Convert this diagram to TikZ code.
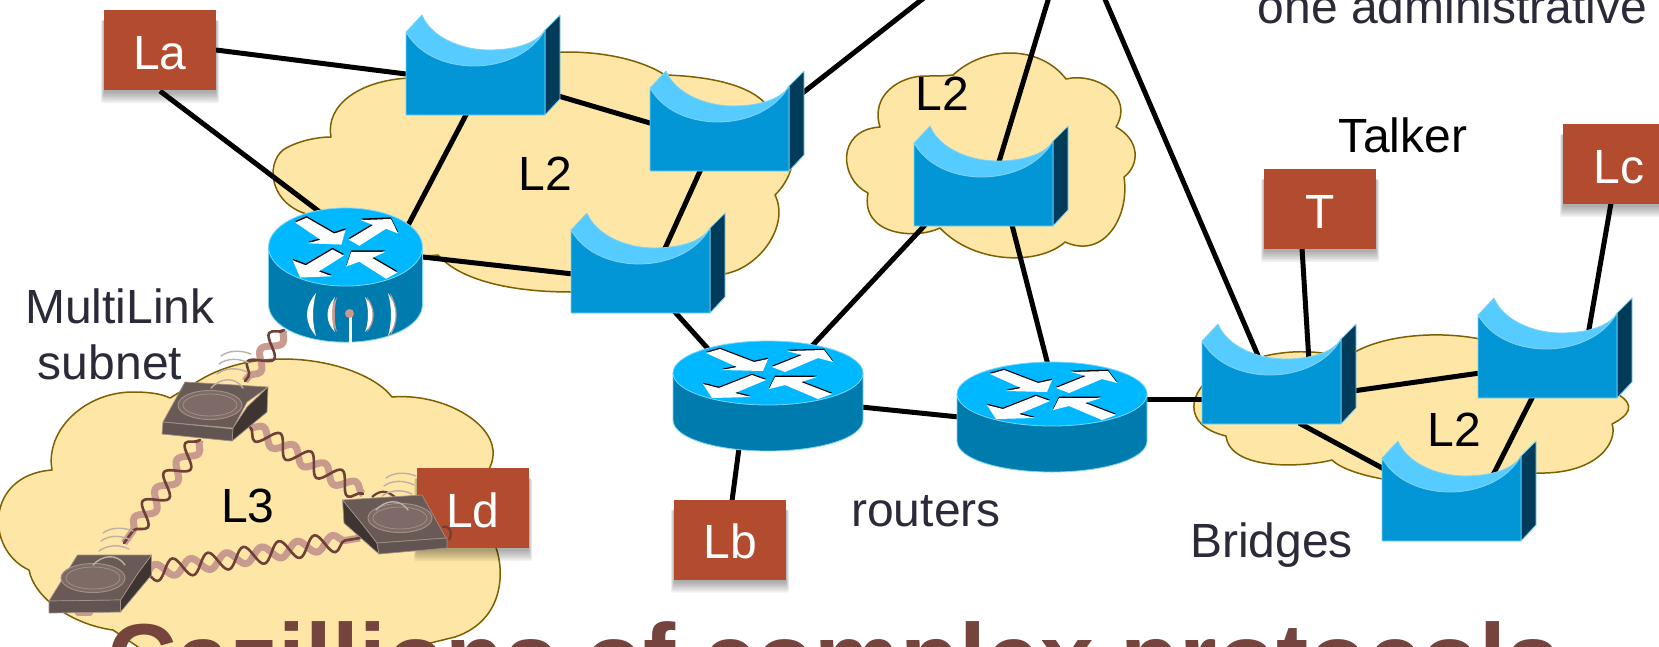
\documentclass[tikz,border=0pt]{standalone}
\usepackage{fontspec}
\setmainfont{Liberation Sans}
\usetikzlibrary{decorations.pathmorphing}
\definecolor{cloudfill}{HTML}{FDE6A6}
\definecolor{cloudline}{HTML}{7F6000}
\definecolor{boxred}{HTML}{B34C2F}
\definecolor{inktxt}{HTML}{2A2A38}
\definecolor{titlecol}{HTML}{75443C}
\definecolor{brfront}{HTML}{0296D6}
\definecolor{brband}{HTML}{55CBFF}
\definecolor{brside}{HTML}{003B59}
\definecolor{bredge}{HTML}{7FD4F4}
\definecolor{rttop}{HTML}{00B8FF}
\definecolor{rtbody}{HTML}{007BAE}
\definecolor{twistlight}{HTML}{C99A8E}
\definecolor{twistdark}{HTML}{6F4038}
\definecolor{devtop}{HTML}{6A5A56}
\definecolor{devdark}{HTML}{3E3432}
\definecolor{devfront}{HTML}{625451}
\definecolor{devedge}{HTML}{A08E88}
\definecolor{devdisc}{HTML}{7E6A66}
\definecolor{waveline}{HTML}{BDB0A8}
\tikzset{
  cloudshape/.style={draw=cloudline,fill=cloudfill,line width=1.5pt,line join=round},
  wire/.style={draw=black,line width=5pt},
  hit/.style={inner sep=0pt,outer sep=0pt,minimum size=1pt},
  redbox/.style={fill=boxred,text=white,inner sep=0pt,minimum width=112pt,minimum height=80pt,text height=38pt,text depth=0pt,font=\fontsize{48}{48}\selectfont},
  lab/.style={anchor=base,inner sep=0pt,font=\fontsize{48}{48}\selectfont},
  twistthick/.style={draw=twistlight,line width=7pt,line join=round,decorate,decoration={snake,segment length=36pt,amplitude=7pt}},
  twistthin/.style={draw=twistdark,line width=2.6pt,line cap=round,line join=round,decorate,decoration={snake,segment length=36pt,amplitude=10pt,mirror}},
  wavearc/.style={draw=waveline,line width=1.4pt,line cap=round},
}
\newcommand{\lnk}[6]{\draw[wire] ([shift={(#2,#3)}]#1.center) -- ([shift={(#5,#6)}]#4.center);}
\newcommand{\twist}[6]{%
  \draw[twistthick] ([shift={(#2,#3)}]#1.center) -- ([shift={(#5,#6)}]#4.center);
  \draw[twistthin] ([shift={(#2,#3)}]#1.center) -- ([shift={(#5,#6)}]#4.center);}
% bridge: origin = bottom-left of the front face
\newcommand{\bridgeshape}[2]{%
  \begin{scope}[shift={(#1,#2)},draw=bredge,line width=.8pt,line join=round]
    \filldraw[fill=brside] (139,-85) -- (154,-100) -- (154,-16) -- (139,0) -- cycle;
    \filldraw[fill=brband] (0,-83) -- (16,-100) .. controls (25,-78) and (55,-65) .. (83,-65)
       .. controls (105,-65) and (130,-70) .. (139,-85)
       .. controls (125,-60) and (95,-49) .. (68,-49) .. controls (45,-49) and (15,-57) .. (0,-83) -- cycle;
    \filldraw[fill=brfront] (0,-83) .. controls (15,-57) and (45,-49) .. (68,-49)
       .. controls (95,-49) and (125,-60) .. (139,-85) -- (139,0) -- (0,0) -- cycle;
  \end{scope}}
% router: canonical half-axes 95 x 32
\newcommand{\routershape}[4]{%
  \begin{scope}[shift={(#1,#2)},xscale=#3,yscale=#4]
    \filldraw[fill=rtbody,draw=bredge,line width=.8pt] (-95,0) -- (-95,47)
       .. controls (-95,65) and (-52,78) .. (0,78) .. controls (52,78) and (95,65) .. (95,47) -- (95,0) -- cycle;
    \filldraw[fill=rttop,draw=bredge,line width=.8pt] (0,0) ellipse [x radius=95,y radius=32];
    \foreach \c/\sh in {black/1.3,white/0}{
      \begin{scope}[yshift=\sh]
      \fill[\c] (-62,-20) -- (-48,-24) -- (-14,-11) -- (0,-14) -- (-5,-2) -- (-46,-3) -- (-31,-6) -- cycle;
      \fill[\c] (4,-6) -- (34,-18) -- (19,-22) -- (56,-23) -- (65,-11) -- (50,-15) -- (17,-1) -- cycle;
      \fill[\c] (-2,7) -- (-16,2) -- (-49,15) -- (-65,11) -- (-56,25) -- (-17,24) -- (-33,20) -- cycle;
      \fill[\c] (1,16) -- (7,4) -- (49,4) -- (33,9) -- (64,21) -- (50,26) -- (17,12) -- cycle;
      \end{scope}}
  \end{scope}}
\newcommand{\boxshadow}[1]{%
  \foreach \e in {6,5,4,3,2,1,0}{
    \fill[black,opacity=.05,rounded corners=2pt]
      ([shift={(-56-.5*\e,-30)}]#1.center) rectangle ([shift={(56+.5*\e,43+1.7*\e)}]#1.center);}}
\newcommand{\waveset}[2]{%
  \begin{scope}[shift={(#1,#2)}]
    \draw[wavearc] (-14,8) .. controls (-5,-2) and (10,-4) .. (18,8);
    \draw[wavearc] (-8,-6) .. controls (0,-12) and (12,-13) .. (22,-8);
    \draw[wavearc] (-6,-16) .. controls (2,-22) and (14,-22) .. (24,-17);
    \draw[wavearc] (-4,-24) .. controls (4,-30) and (16,-30) .. (26,-26);
  \end{scope}}
\newcommand{\discshape}[2]{%
  \filldraw[fill=devdisc,draw=devedge,line width=1pt] (#1,#2) ellipse [x radius=32,y radius=14.5];
  \draw[devedge,line width=.8pt] (#1,#2) ellipse [x radius=27,y radius=11];}
\begin{document}
\begin{tikzpicture}[x=1pt,y=-1pt]
\useasboundingbox (0,0) rectangle (1659,646);
\clip (0,0) rectangle (1659,646);
\fill[white] (0,0) rectangle (1659,646);

% clouds
\draw[cloudshape] (331,137) .. controls (325,105) and (360,80) .. (410,78) -- (480,72) -- (540,60) -- (552,52) -- (567,52)
  .. controls (610,52) and (645,62) .. (665,75) .. controls (700,76) and (745,82) .. (765,103)
  .. controls (795,125) and (805,165) .. (775,195) .. controls (790,225) and (760,268) .. (724,274)
  .. controls (680,290) and (620,293) .. (571,292) .. controls (510,292) and (460,280) .. (438,255)
  .. controls (400,260) and (340,235) .. (310,215) .. controls (270,205) and (265,165) .. (283,150)
  .. controls (295,142) and (315,137) .. (331,137) -- cycle;
\draw[cloudshape] (880,127) .. controls (870,95) and (900,76) .. (925,76) .. controls (935,76) and (945,76) .. (953,75)
  .. controls (985,45) and (1040,45) .. (1066,79) .. controls (1095,72) and (1135,95) .. (1116,127)
  .. controls (1140,140) and (1140,165) .. (1124,177) .. controls (1130,215) and (1105,260) .. (1065,242)
  .. controls (1040,265) and (975,265) .. (940,228) .. controls (915,240) and (860,235) .. (868,193)
  .. controls (840,180) and (835,130) .. (880,127) -- cycle;
\draw[cloudshape] (1226,436) .. controls (1180,425) and (1190,390) .. (1215,375) -- (1265,356)
  .. controls (1290,350) and (1320,350) .. (1345,358) -- (1355,352) .. controls (1385,335) and (1440,330) .. (1485,340)
  -- (1600,380) -- (1619,395) .. controls (1635,405) and (1630,415) .. (1612,424)
  .. controls (1618,440) and (1600,475) .. (1535,473) -- (1450,495) -- (1383,479)
  .. controls (1360,475) and (1340,468) .. (1332,460) .. controls (1300,468) and (1230,470) .. (1226,436) -- cycle;
\draw[cloudshape] (52,470) .. controls (45,430) and (85,392) .. (133,392) .. controls (150,392) and (162,394) .. (170,398)
  -- (200,380) .. controls (225,365) and (255,359) .. (283,359) .. controls (330,359) and (375,375) .. (392,397)
  .. controls (440,393) and (490,420) .. (493,450) .. controls (494,460) and (490,468) .. (487,472)
  -- (495,545) .. controls (505,570) and (505,620) .. (455,637) -- (381,655) -- (150,655)
  -- (113,630) .. controls (75,625) and (35,600) .. (29,570) .. controls (-15,550) and (-15,475) .. (52,470) -- cycle;

% named anchors
\node[hit] (b1) at (475.5,73) {};
\node[hit] (b2) at (719.5,129) {};
\node[hit] (b3) at (640.5,271) {};
\node[hit] (b4) at (983.5,184) {};
\node[hit] (b5) at (1271.5,382) {};
\node[hit] (b6) at (1547.5,356) {};
\node[hit] (b7) at (1451.5,499) {};
\node[hit] (r1) at (345.5,247) {};
\node[hit] (r2) at (768,373) {};
\node[hit] (r3) at (1052,394) {};
\node[hit] (d1) at (215,410) {};
\node[hit] (d2) at (100,585) {};
\node[hit] (d3) at (395,522) {};
\coordinate (top1) at (925,-3);
\coordinate (top2) at (1049,-3);
\coordinate (top3) at (1104,-3);
\node[hit] (la0) at (160,50) {};
\node[hit] (t0) at (1320,209) {};
\node[hit] (lc0) at (1619,164) {};
\node[hit] (lb0) at (730,539.5) {};
\node[hit] (ld0) at (473,508) {};

% wires
\lnk{la0}{56}{0}{b1}{-69.5}{1}
\lnk{la0}{0}{41}{r1}{-20.5}{-31}
\lnk{b1}{-8.5}{40}{r1}{58.5}{-14}
\lnk{b1}{79.5}{22}{b2}{-64.5}{-4.5}
\lnk{b2}{-18.5}{40}{b3}{21.5}{-16}
\lnk{r1}{72.5}{9.5}{b3}{-67.5}{3}
\lnk{b3}{33.5}{40}{r2}{-58}{-22}
\lnk{b2}{80.5}{-34}{top1}{0}{0}
\lnk{b4}{14.5}{-19}{top2}{0}{0}
\lnk{b5}{-9.5}{-17}{top3}{0}{0}
\lnk{b4}{-58.5}{41}{r2}{43}{-26}
\lnk{b4}{28.5}{41}{r3}{-4}{-29}
\lnk{r2}{93}{34}{r3}{-93}{23}
\lnk{r2}{-29}{75}{lb0}{2}{-38.5}
\lnk{r3}{93}{5}{b5}{-67.5}{17}
\lnk{t0}{-18}{39}{b5}{37.5}{-20}
\lnk{lc0}{-8}{39}{b6}{40.5}{-21}
\lnk{b5}{81.5}{9}{b6}{-67.5}{17}
\lnk{b5}{27.5}{41}{b7}{-67.5}{-30}
\lnk{b6}{-14.5}{40}{b7}{41.5}{-24}

% routers
\routershape{345.5}{247}{.81}{1.22}
\routershape{768}{373}{1}{1}
\routershape{1052}{394}{1}{1}

% wifi symbol of the first router
\fill[twistlight] (337,297) .. controls (329,308) and (329,322) .. (337,332) .. controls (334,322) and (334,308) .. (337,297) -- cycle;
\fill[twistlight] (367,297) .. controls (376,308) and (376,322) .. (367,332) .. controls (370,322) and (370,308) .. (367,297) -- cycle;
\fill[twistlight] (390,293) .. controls (399,308) and (399,322) .. (390,336) .. controls (394,322) and (394,308) .. (390,293) -- cycle;
\fill[white] (316,293) .. controls (304,308) and (304,322) .. (316,336) .. controls (312,322) and (312,308) .. (316,293) -- cycle;
\fill[white] (335,297) .. controls (325,308) and (325,322) .. (335,332) .. controls (331,322) and (331,308) .. (335,297) -- cycle;
\fill[white] (365,297) .. controls (375,308) and (375,322) .. (365,332) .. controls (369,322) and (369,308) .. (365,297) -- cycle;
\fill[white] (388,293) .. controls (398,308) and (398,322) .. (388,336) .. controls (392,322) and (392,308) .. (388,293) -- cycle;
\draw[white,line width=3pt] (350,314) -- (350,344);
\fill[twistlight] (349.5,313.5) circle [radius=4.5];

% bridges
\bridgeshape{406}{115}
\bridgeshape{650}{171}
\bridgeshape{571}{313}
\bridgeshape{914}{226}
\bridgeshape{1202}{424}
\bridgeshape{1478}{398}
\bridgeshape{1382}{541}

% listener and talker boxes
\boxshadow{la0}\boxshadow{t0}\boxshadow{lc0}\boxshadow{lb0}\boxshadow{ld0}
\node[redbox] (la) at (la0) {La};
\node[redbox] (t) at (t0) {T};
\node[redbox] (lc) at (lc0) {Lc};
\node[redbox] (lb) at (lb0) {Lb};
\node[redbox] (ld) at (ld0) {Ld};

% twisted-pair links
\draw[draw=twistlight,line width=6pt,line cap=round] (78,613) -- (90,613);
\twist{r1}{-61.5}{83}{d1}{30}{-29}
\twist{d1}{-15}{30}{d2}{24}{-42}
\twist{d1}{35}{17}{d3}{-32}{-28}
\twist{d2}{45}{-12}{d3}{-35}{16}
\draw[draw=twistdark,line width=2.2pt] (442,527) .. controls (450,525) and (453,532) .. (449,540);
\draw[draw=twistdark,line width=2.2pt] (372,497) .. controls (380,490) and (386,490) .. (395,497);

% wireless devices
\begin{scope}[draw=devedge,line width=.7pt,line join=round]
  \filldraw[fill=devdark] (268,387) -- (267,412) -- (232,441) -- (233,428) -- (247,407) -- cycle;
  \filldraw[fill=devtop] (163,422) -- (185,382) -- (268,387) -- (247,402) -- (233,428) -- cycle;
  \filldraw[fill=devfront] (163,422) -- (233,429) -- (232,441) -- (162,434) -- cycle;
  \filldraw[fill=devdark] (151.5,555) -- (151.5,575) -- (120.5,612) -- (120.5,600) -- (138,573) -- cycle;
  \filldraw[fill=devtop] (49,601) -- (77.5,555) -- (151.5,555) -- (138,573) -- (120.5,600) -- cycle;
  \filldraw[fill=devfront] (49,601) -- (120.5,600) -- (120.5,612) -- (49,613) -- cycle;
  \filldraw[fill=devdark] (342.6,500) -- (361.5,523) -- (377,543) -- (379,554) -- (344,523) -- cycle;
  \filldraw[fill=devtop] (342.6,500) -- (422,495) -- (446,538) -- (377,543) -- (361.5,523) -- cycle;
  \filldraw[fill=devfront] (377,543) -- (447,538) -- (447,548) -- (379,554) -- cycle;
\end{scope}
\discshape{210}{405}
\discshape{93}{578}
\discshape{400}{518}
\waveset{225}{380}
\waveset{107}{557}
\waveset{390}{502}

% texts
\node[lab,text=inktxt] (t1) at (120,323) {MultiLink};
\node[lab,text=inktxt] (t2) at (110,379) {subnet};
\node[lab,text=inktxt] (t3) at (926,526) {routers};
\node[lab,text=inktxt] (t4) at (1271.5,557) {Bridges};
\node[lab,text=inktxt] (t5) at (1452.5,23) {one administrative};
\node[lab,text=black] (t6) at (1403,152) {Talker};
\node[lab,text=black] (t7) at (545.5,190) {L2};
\node[lab,text=black] (t8) at (942,110) {L2};
\node[lab,text=black] (t9) at (1454.5,446) {L2};
\node[lab,text=black] (t10) at (248,522) {L3};
\node[anchor=base west,inner sep=0pt,text=titlecol,font=\fontsize{96.5}{96.5}\selectfont\bfseries] (title) at (107,691) {Cazillions of complex protocols};
\end{tikzpicture}
\end{document}
